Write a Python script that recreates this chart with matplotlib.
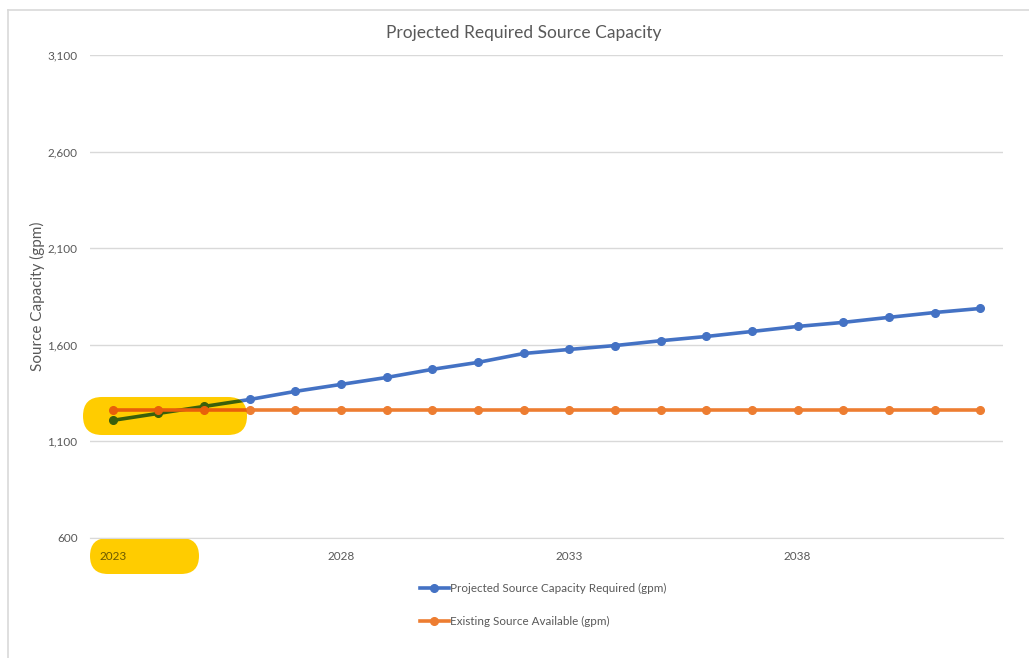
import matplotlib.pyplot as plt
from matplotlib.patches import FancyBboxPatch
from matplotlib.lines import Line2D
from matplotlib.transforms import IdentityTransform

plt.rcParams['font.family'] = ['Lato', 'DejaVu Sans']

# Data
years = list(range(2023, 2043))
required = [1209, 1245, 1281, 1317, 1359, 1395, 1431, 1473, 1509, 1555,
            1576, 1596, 1621, 1643, 1669, 1695, 1716, 1742, 1767, 1788]
existing = [1265] * len(years)
xticks = [2023, 2028, 2033, 2038]
yticks = [600, 1100, 1600, 2100, 2600, 3100]

W, H = 1029, 658
fig = plt.figure(figsize=(W / 100, H / 100), dpi=100)
ax = fig.add_axes([90 / W, 1 - 538 / H, (1003 - 90) / W, (538 - 55) / H])

blue = '#4472C4'
orange = '#ED7D31'
grey = '#595959'

ax.plot(years, required, color=blue, lw=2.6, marker='o', ms=5.5, zorder=2,
        label='Projected Source Capacity Required (gpm)')
ax.plot(years, existing, color=orange, lw=2.6, marker='o', ms=5.5, zorder=2,
        label='Existing Source Available (gpm)')

ax.set_xlim(2022.5, 2042.5)
ax.set_ylim(600, 3100)
ax.set_xticks(xticks)
ax.set_xticklabels([str(x) for x in xticks])
ax.set_yticks(yticks)
ax.set_yticklabels([f'{y:,}' for y in yticks])
ax.tick_params(length=0, labelsize=8.5, labelcolor=grey)
ax.tick_params(axis='x', pad=9)
ax.tick_params(axis='y', pad=9)
ax.grid(axis='y', color='#D9D9D9', lw=1)
ax.set_axisbelow(True)
for s in ['top', 'right', 'left']:
    ax.spines[s].set_visible(False)
ax.spines['bottom'].set_color('#D9D9D9')
ax.get_xticklabels()[0].set_color('#6B5A00')

ax.set_ylabel('Source Capacity (gpm)', fontsize=11, color=grey, labelpad=2)
fig.text(524 / W, 1 - 33 / H, 'Projected Required Source Capacity',
         ha='center', va='center', fontsize=12.5, color=grey)

fig.legend(loc='center', bbox_to_anchor=(543 / W, 1 - 605 / H), frameon=False,
           fontsize=8.4, labelcolor=grey, labelspacing=1.9, handlelength=2.5,
           handletextpad=0.1)

# yellow highlight boxes, placed in figure pixels
ident = IdentityTransform()
box1 = FancyBboxPatch((102, H - 416), 126, 0.01, boxstyle='round,pad=19',
                      transform=ident, fc='#FFCC00', ec='none', zorder=2.5,
                      clip_on=False)
ax.add_patch(box1)
box2 = FancyBboxPatch((108, H - 556), 73, 0.01, boxstyle='round,pad=18',
                      transform=ident, fc='#FFCC00', ec='none', zorder=0.3,
                      clip_on=False)
ax.add_patch(box2)

# highlighted lines inside the first box
g, = ax.plot(years[:4], required[:4], color='#3A5F0B', lw=2.6, marker='o',
             ms=5.5, zorder=3)
o, = ax.plot(years[:4], existing[:4], color='#E8600A', lw=2.6, marker='o',
             ms=5.5, zorder=3.5)
g.set_clip_path(box1)
o.set_clip_path(box1)

# outer border
fig.add_artist(Line2D([8 / W, 1], [1 - 10 / H, 1 - 10 / H], color='#D9D9D9', lw=1.2))
fig.add_artist(Line2D([8 / W, 8 / W], [0, 1 - 10 / H], color='#D9D9D9', lw=1.2))

fig.savefig('out.png', dpi=100)
